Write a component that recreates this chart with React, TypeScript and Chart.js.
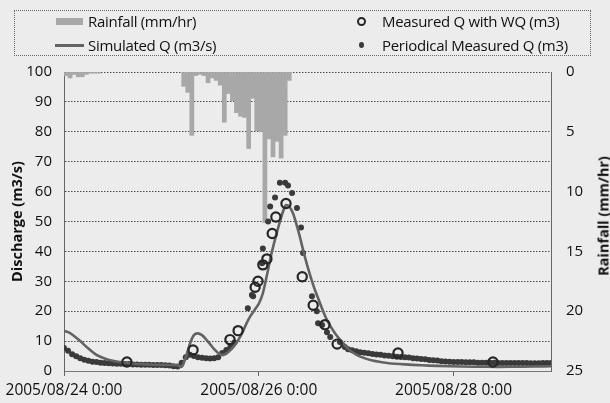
import React, { useEffect, useRef } from "react";
import { Chart, registerables } from "chart.js";
Chart.register(...registerables);

// x axis: hours since 2005/08/24 0:00
const xTickHours = [0, 48, 96];
const xTickLabels = ["2005/08/24 0:00", "2005/08/26 0:00", "2005/08/28 0:00"];

// Rainfall (mm/hr), hourly bars (hour start)
const rainHours = [0, 1, 2, 3, 4, 5, 6, 7, 8,
  29, 30, 31, 32, 33, 34, 35, 36, 37, 38, 39, 40, 41, 42, 43, 44, 45, 46, 47, 48, 49, 50, 51, 52, 53, 54, 55];
const rainValues = [0.3, 0.5, 0.2, 0.4, 0.4, 0.2, 0.1, 0.1, 0.1,
  1.2, 1.7, 5.3, 0.3, 0.2, 0.3, 0.9, 0.5, 0.7, 1.1, 4.2, 1.8, 2.4, 3.4, 3.7, 3.8, 6.4, 2.2, 4.9, 5.0, 12.6, 5.6, 7.1, 5.8, 7.2, 5.3, 0.7];

// Simulated Q (m3/s)
const simHours = [0, 1, 2, 4, 6, 8, 10, 12, 14, 16, 19, 22, 26, 28, 29, 30, 31, 32, 33, 34, 35, 36, 37, 38, 39, 40, 41, 42, 43, 44, 45, 46, 47, 48, 49, 50, 51, 52, 53, 54, 54.7, 55.5, 56.5, 58, 59, 60, 61, 62, 63, 64, 65, 66, 67, 68, 69, 70, 72, 74, 76, 78, 80, 84, 88, 92, 98, 104, 110, 116, 120];
const simQ = [13.4, 13.0, 12.2, 10.0, 7.5, 5.4, 4.2, 3.4, 2.9, 2.6, 2.3, 2.1, 2.0, 1.9, 1.4, 4.5, 9.0, 12.0, 12.6, 12.0, 10.6, 9.0, 7.3, 6.0, 5.3, 5.8, 7.0, 8.5, 10.5, 13.0, 16.0, 18.5, 20.5, 22.5, 26.0, 32.0, 38.5, 44.0, 49.0, 53.5, 55.5, 55.0, 52.5, 45.5, 40.0, 35.0, 30.5, 26.5, 23.0, 19.5, 16.5, 14.2, 12.2, 10.5, 9.0, 7.4, 5.5, 4.3, 3.5, 3.0, 2.6, 2.2, 1.9, 1.7, 1.5, 1.4, 1.4, 1.5, 1.6];

// Measured Q with WQ (hollow circles)
const wqHours = [15.5, 31.8, 40.9, 42.9, 47.1, 47.8, 49.0, 50.0, 51.3, 52.2, 54.7, 58.7, 61.4, 64.3, 67.3, 82.3, 105.7];
const wqQ = [3.0, 7.0, 10.5, 13.5, 28.0, 30.0, 35.5, 37.5, 46.0, 51.5, 56.0, 31.5, 22.0, 15.5, 9.0, 6.0, 3.0];

// Periodical measured Q (small dots)
const perHours = [0, 1, 2, 3, 4, 5, 6, 7, 8, 9, 10, 11, 12, 13, 14, 15, 16, 17, 18, 19, 20, 21, 22, 23, 24, 25, 26, 27, 28,
  29, 30, 31, 32, 33, 34, 35, 36, 37, 38, 39, 40, 41, 42,
  45.3, 46.3, 46.6, 48.8, 49.0, 50.3, 50.8, 52.0, 53.2, 54.5, 55.2, 56.2, 57.4, 58.4, 58.9, 61.1, 62.3, 62.6, 63.6, 64.8, 65.6, 68.0, 69.2,
  70, 71, 72, 73, 74, 75, 76, 77, 78, 79, 80, 81, 82, 83, 84, 85, 86, 87, 88, 89, 90, 91, 92, 93, 94, 95, 96, 97, 98, 99, 100,
  101, 102, 103, 104, 105, 106, 107, 108, 109, 110, 111, 112, 113, 114, 115, 116, 117, 118, 119, 120];
const perQ = [7.7, 6.8, 5.6, 4.9, 4.3, 3.8, 3.4, 3.1, 3.0, 2.8, 2.7, 2.6, 2.5, 2.4, 2.4, 2.3, 2.3, 2.2, 2.2, 2.1, 2.1, 2.1, 2.0, 2.0, 2.0, 1.9, 1.8, 1.6, 1.5,
  2.8, 4.6, 5.4, 5.0, 4.6, 4.4, 4.3, 4.2, 4.3, 4.6, 6.0, 7.0, 8.0, 9.5,
  21.0, 25.4, 25.0, 36.0, 41.0, 50.0, 55.0, 58.0, 63.0, 63.0, 62.0, 59.5, 54.5, 48.0, 39.5, 25.0, 20.0, 16.0, 15.4, 13.0, 11.4, 9.7, 8.0,
  7.3, 6.9, 6.6, 6.3, 6.1, 5.9, 5.7, 5.5, 5.4, 5.2, 5.1, 4.9, 4.8, 4.7, 4.6, 4.5, 4.3, 4.2, 4.0, 3.9, 3.7, 3.6, 3.5, 3.3, 3.2, 3.1, 3.0, 3.0, 3.0, 2.9, 2.9,
  2.9, 2.8, 2.8, 2.8, 2.8, 2.8, 2.7, 2.7, 2.7, 2.7, 2.7, 2.7, 2.7, 2.7, 2.6, 2.6, 2.6, 2.7, 2.7, 2.7];

const FONT = '"Open Sans", "DejaVu Sans", sans-serif';
const GRID = "#4a4a4a";
const BG = "#ececec";

export default function App() {
  const ref = useRef<HTMLCanvasElement>(null);
  useEffect(() => {
    const canvas = ref.current;
    if (!canvas) return;
    const chart = new Chart(canvas, {
      type: "bar",
      data: {
        datasets: [
          {
            type: "bar",
            label: "Rainfall (mm/hr)",
            data: rainHours.map((h, i) => ({ x: h + 0.5, y: rainValues[i] })),
            xAxisID: "x",
            yAxisID: "yR",
            backgroundColor: "#a8a8a8",
            borderWidth: 0,
            barPercentage: 1,
            categoryPercentage: 1,
            grouped: false,
            order: 4,
          } as any,
          {
            type: "line",
            label: "Simulated Q (m3/s)",
            data: simHours.map((h, i) => ({ x: h, y: simQ[i] })),
            xAxisID: "x",
            yAxisID: "y",
            borderColor: "#636363",
            borderWidth: 2.6,
            pointRadius: 0,
            tension: 0.25,
            fill: false,
            order: 2,
          },
          {
            type: "line",
            label: "Periodical Measured Q (m3)",
            data: perHours.map((h, i) => ({ x: h, y: perQ[i] })),
            xAxisID: "x",
            yAxisID: "y",
            showLine: false,
            pointRadius: 3,
            pointBackgroundColor: "#3a3a3a",
            pointBorderWidth: 0,
            order: 3,
          },
          {
            type: "line",
            label: "Measured Q with WQ (m3)",
            data: wqHours.map((h, i) => ({ x: h, y: wqQ[i] })),
            xAxisID: "x",
            yAxisID: "y",
            showLine: false,
            pointRadius: 4.6,
            pointBackgroundColor: "rgba(0,0,0,0)",
            pointBorderColor: "#262626",
            pointBorderWidth: 2.2,
            order: 1,
          },
        ],
      },
      options: {
        responsive: false,
        animation: false,
        devicePixelRatio: 1,
        layout: { padding: { top: 72, left: 0, right: 0, bottom: 0 } },
        plugins: { legend: { display: false }, tooltip: { enabled: false } },
        scales: {
          x: {
            type: "linear",
            min: 0,
            max: 120,
            offset: false,
            afterBuildTicks: (s: any) => {
              s.ticks = xTickHours.map((v) => ({ value: v }));
            },
            afterFit: (s: any) => {
              s.height = 32;
            },
            ticks: {
              autoSkip: false,
              maxRotation: 0,
              padding: 5,
              color: "#111",
              font: { family: FONT, size: 15.5 },
              callback: (_v: any, i: number) => xTickLabels[i],
            },
            grid: { offset: false, drawOnChartArea: false, drawTicks: true, tickLength: 5, color: "#666" },
            border: { color: "#777", width: 1 },
          },
          y: {
            type: "linear",
            position: "left",
            min: 0,
            max: 100,
            afterFit: (s: any) => {
              s.width = 64;
            },
            ticks: {
              stepSize: 10,
              padding: 12,
              color: "#111",
              font: { family: FONT, size: 15 },
            },
            grid: { color: GRID, drawTicks: false, lineWidth: 1 },
            border: { color: "#666", dash: [1.5, 1.5] },
            title: {
              display: true,
              text: "Discharge (m3/s)",
              color: "#111",
              font: { family: FONT, size: 14.5, weight: "bold" },
              padding: { top: 9, bottom: 0 },
            },
          } as any,
          yR: {
            type: "linear",
            position: "right",
            min: 0,
            max: 25,
            reverse: true,
            afterFit: (s: any) => {
              s.width = 59;
            },
            ticks: {
              stepSize: 5,
              padding: 15,
              color: "#111",
              font: { family: FONT, size: 15 },
            },
            grid: { drawOnChartArea: false, drawTicks: false },
            border: { color: "#666", dash: [1.5, 1.5] },
          } as any,
        },
      } as any,
    });
    return () => chart.destroy();
  }, []);

  const legendText: React.CSSProperties = {
    position: "absolute",
    fontFamily: FONT,
    fontSize: 15,
    color: "#111",
    whiteSpace: "nowrap",
    lineHeight: "18px",
    letterSpacing: "-0.3px",
  };

  return (
    <div
      style={{
        position: "fixed",
        left: 0,
        top: 0,
        width: 610,
        height: 403,
        background: BG,
        overflow: "hidden",
      }}
    >
      <canvas
        ref={ref}
        width={610}
        height={403}
        style={{ position: "absolute", left: 0, top: 0, width: 610, height: 403 }}
      />
      <div
        style={{
          position: "absolute",
          left: 14,
          top: 10,
          width: 577,
          height: 46,
          border: "1px dotted #666",
          boxSizing: "border-box",
        }}
      />
      <div style={{ position: "absolute", left: 56, top: 18, width: 27, height: 7, background: "#a8a8a8" }} />
      <div style={{ ...legendText, left: 88, top: 12 }}>Rainfall (mm/hr)</div>
      <div style={{ position: "absolute", left: 55, top: 44, width: 29, height: 3, background: "#636363" }} />
      <div style={{ ...legendText, left: 88, top: 36 }}>Simulated Q (m3/s)</div>
      <div
        style={{
          position: "absolute",
          left: 357,
          top: 17,
          width: 9,
          height: 9,
          borderRadius: "50%",
          border: "2px solid #262626",
          boxSizing: "border-box",
        }}
      />
      <div style={{ ...legendText, left: 382, top: 12 }}>Measured Q with WQ (m3)</div>
      <div
        style={{
          position: "absolute",
          left: 359,
          top: 42,
          width: 5,
          height: 6,
          borderRadius: "50%",
          background: "#3a3a3a",
        }}
      />
      <div style={{ ...legendText, left: 382, top: 36 }}>Periodical Measured Q (m3)</div>
      <div
        style={{
          position: "absolute",
          left: 603,
          top: 216,
          transform: "translate(-50%, -50%) rotate(-90deg)",
          fontFamily: FONT,
          fontSize: 14.5,
          fontWeight: "bold",
          color: "#111",
          whiteSpace: "nowrap",
        }}
      >
        Rainfall (mm/hr)
      </div>
    </div>
  );
}
